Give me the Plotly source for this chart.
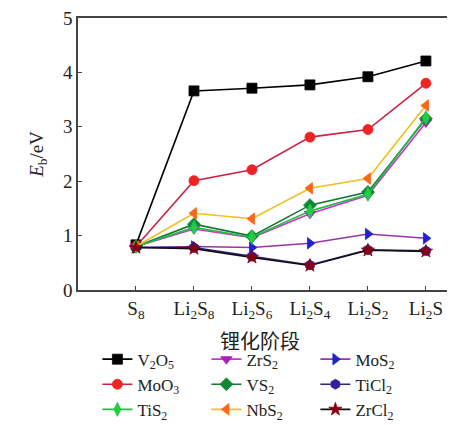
import plotly.graph_objects as go

stages = ["S<sub>8</sub>", "Li<sub>2</sub>S<sub>8</sub>", "Li<sub>2</sub>S<sub>6</sub>",
          "Li<sub>2</sub>S<sub>4</sub>", "Li<sub>2</sub>S<sub>2</sub>", "Li<sub>2</sub>S"]

V2O5 = [0.83, 3.66, 3.71, 3.77, 3.92, 4.21]
ZrS2 = [0.80, 1.12, 0.96, 1.40, 1.74, 3.08]
MoS2 = [0.78, 0.80, 0.78, 0.86, 1.03, 0.95]
MoO3 = [0.80, 2.01, 2.21, 2.81, 2.95, 3.80]
VS2 = [0.80, 1.21, 0.99, 1.56, 1.80, 3.15]
TiCl2 = [0.78, 0.78, 0.62, 0.46, 0.74, 0.72]
TiS2 = [0.80, 1.15, 0.97, 1.45, 1.76, 3.17]
NbS2 = [0.80, 1.41, 1.31, 1.87, 2.05, 3.39]
ZrCl2 = [0.78, 0.76, 0.60, 0.45, 0.73, 0.71]

x_title = "锂化阶段"

names = ["V<sub>2</sub>O<sub>5</sub>", "ZrS<sub>2</sub>", "MoS<sub>2</sub>",
         "MoO<sub>3</sub>", "VS<sub>2</sub>", "TiCl<sub>2</sub>",
         "TiS<sub>2</sub>", "NbS<sub>2</sub>", "ZrCl<sub>2</sub>"]
series = [V2O5, ZrS2, MoS2, MoO3, VS2, TiCl2, TiS2, NbS2, ZrCl2]
line_colors = ["#000000", "#cc33cc", "#9933aa", "#cc2244", "#117733", "#332288",
               "#22bb44", "#f0c020", "#111111"]
marker_colors = ["#000000", "#aa22bb", "#2222cc", "#ee2222", "#118833", "#332299",
                 "#22cc44", "#ff6611", "#880011"]
symbols = ["square", "triangle-down", "triangle-right", "circle", "diamond",
           "hexagon", "diamond-tall", "triangle-left", "star"]

fig = go.Figure()
for i in range(9):
    fig.add_trace(go.Scatter(
        x=stages, y=series[i], name=names[i], mode="lines+markers",
        line=dict(color=line_colors[i], width=1.6),
        marker=dict(symbol=symbols[i], size=10, color=marker_colors[i],
                    line=dict(width=0.8, color=marker_colors[i])),
    ))

# the page body has an 8px default margin, so the figure is sized 447x417
fig.update_layout(
    width=447, height=417,
    margin=dict(l=70, r=3, t=10, b=135),
    paper_bgcolor="white", plot_bgcolor="white",
    font=dict(family="Liberation Serif, Times New Roman, serif", size=19, color="#222"),
    showlegend=True,
    legend=dict(orientation="h", xref="container", yref="container",
                x=0.2, y=0.2, xanchor="left", yanchor="top",
                entrywidth=64, entrywidthmode="pixels", tracegroupgap=0,
                font=dict(size=17, family="Liberation Serif, serif"),
                itemwidth=30, bgcolor="rgba(0,0,0,0)"),
    xaxis=dict(type="category", categoryorder="array", categoryarray=stages,
               range=[-1, 5.45], showline=True, linecolor="#444", linewidth=1.5,
               mirror=True, ticks="inside", ticklen=4, tickcolor="#444",
               showgrid=False, zeroline=False, automargin=False),
    yaxis=dict(range=[0, 5], dtick=1, showline=True, linecolor="#444", linewidth=1.5,
               mirror=True, ticks="inside", ticklen=4, tickcolor="#444",
               showgrid=False, zeroline=False, automargin=False,
               ticklabeloverflow="allow",
               title=dict(text="<i>E</i><sub>b</sub>/eV", font=dict(size=19), standoff=14)),
    annotations=[dict(text=x_title, xref="paper", yref="paper", x=0.487, y=-0.184,
                      xanchor="center", yanchor="middle", showarrow=False,
                      font=dict(family="Noto Sans CJK SC", size=20, color="#222"))],
)

fig.write_html("out.html")
